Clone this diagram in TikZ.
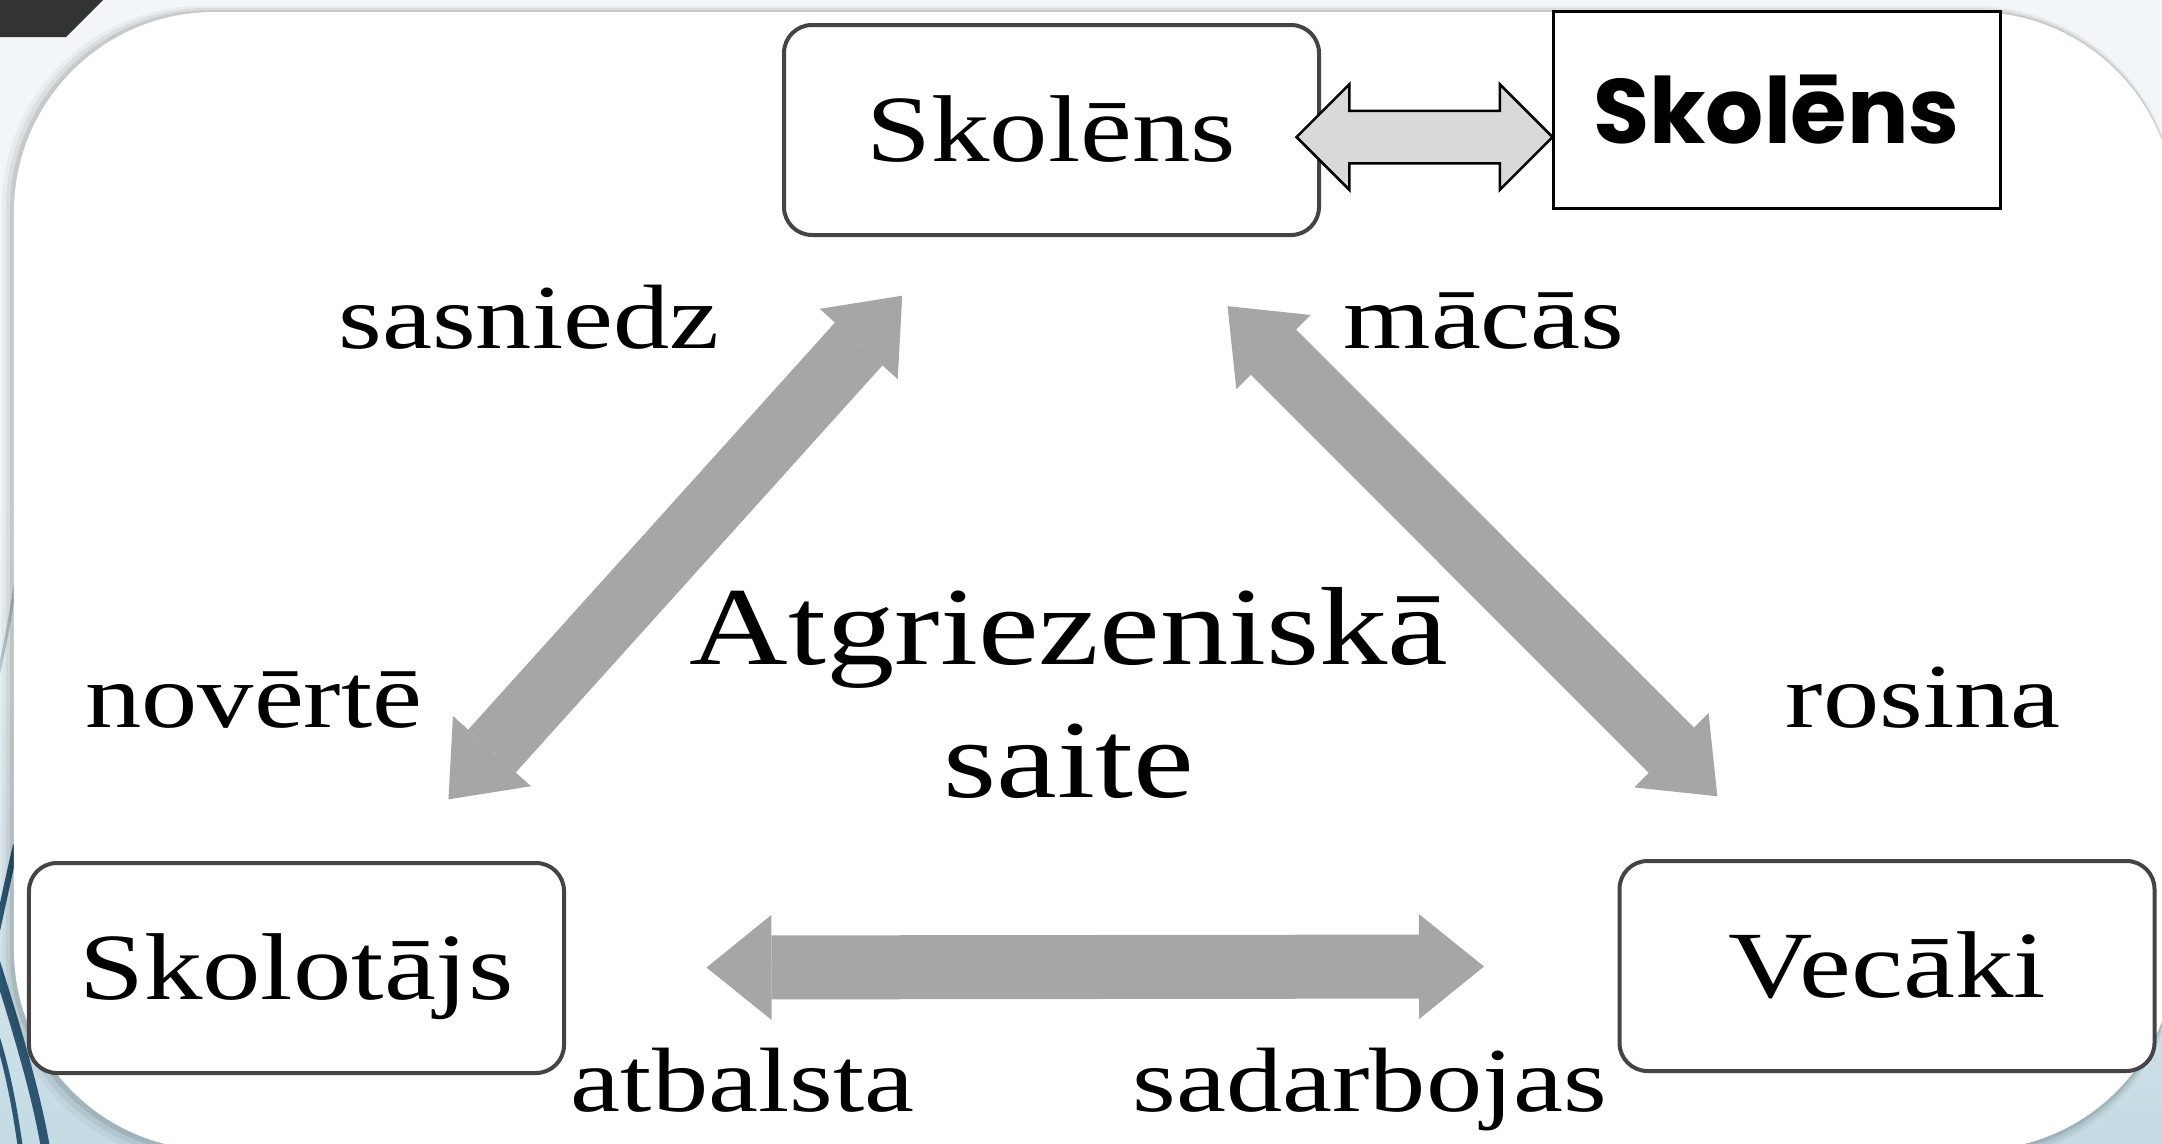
\documentclass[tikz,border=0pt]{standalone}
\usepackage{fontspec}
\setmainfont{Liberation Serif}[FakeStretch=1.23]
\newfontfamily\gothicfont{Poppins}
\usetikzlibrary{arrows.meta,shapes.arrows,calc}

\definecolor{arrowgrey}{HTML}{A6A6A6}
\definecolor{linkgrey}{HTML}{D9D9D9}
\definecolor{boxline}{HTML}{444444}
\definecolor{backpale}{HTML}{F3F6F8}
\definecolor{backblue}{HTML}{C4DBE3}
\definecolor{wisp}{HTML}{2B5571}
\definecolor{darkbar}{HTML}{333333}

\begin{document}
\begin{tikzpicture}[
  x=1mm,y=-1mm,
  role/.style={draw=boxline, line width=0.4mm, rounded corners=2.8mm, fill=white, minimum width=53.5mm, minimum height=21mm, inner sep=0pt, text height=6.3mm, text depth=0pt, font=\fontsize{27}{32}\selectfont},
  peerbox/.style={draw=black, line width=0.3mm, fill=white, minimum width=44.7mm, minimum height=19.7mm, inner sep=0pt, font=\gothicfont\bfseries\fontsize{26}{30}\selectfont},
  verblabel/.style={anchor=base, inner sep=0pt, font=\fontsize{26}{31}\selectfont},
  centre/.style={anchor=base, align=center, inner sep=0pt, font=\fontsize{31.6}{37.6}\selectfont},
  bigarrow/.style={draw=arrowgrey, line width=6.4mm, >={Triangle[length=6.5mm,width=10.5mm,line width=0pt]}, <->},
  linkarrow/.style={double arrow, draw=black, fill=linkgrey, line width=0.25mm, minimum height=25.6mm, inner xsep=0pt, inner ysep=2.5mm, double arrow head extend=2.65mm}
]
% slide backdrop
\useasboundingbox (0,0) rectangle (216.2,114.3);
\clip (0,0) rectangle (216.2,114.3);
\fill[backpale] (0,0) rectangle (216.2,114.3);
\shade[top color=backpale, bottom color=backblue] (0,50) rectangle (216.2,114.3);
\draw[wisp!35!white, line width=0.3mm] (1.6,58) .. controls (0.8,63) .. (-0.5,69);
\draw[wisp, line width=0.6mm] (1.6,84.5) .. controls (0.8,88) .. (-0.5,94);
\draw[wisp, line width=0.9mm] (-0.5,96) .. controls (2,104) and (3.5,109) .. (4.5,114.5);
\draw[wisp, line width=0.5mm] (-0.5,103) .. controls (0.8,107) and (1.5,111) .. (2,114.5);
\foreach \d/\o in {1.2/0.04,0.8/0.06,0.4/0.09}
  {\fill[black, opacity=\o, rounded corners=20mm] (1.4-\d,1.2-\d/2) rectangle (217.5,115+\d);}
\fill[white, rounded corners=20mm] (1.4,1.2) rectangle (217.5,115);
\fill[darkbar] (0,0) -- (10.3,0) -- (6.6,3.7) -- (0,3.7) -- cycle;

% roles
\node[role] (pupil) at (105.15,13.0) {Skolēns};
\node[role] (teacher) at (29.65,96.8) {Skolotājs};
\node[role] (parents) at (188.7,96.6) {Vecāki};
\node[peerbox] (peer) at (177.65,10.95) {Skolēns};
\node[linkarrow] (link) at (142.45,13.7) {};

% verbs
\node[verblabel] (reach) at (52.9,34.8) {sasniedz};
\node[verblabel] (learn) at (148.4,34.8) {mācās};
\node[verblabel] (assess) at (25.4,72.7) {novērtē};
\node[verblabel] (inspire) at (192.3,72.7) {rosina};
\node[verblabel] (support) at (74.25,111.1) {atbalsta};
\node[verblabel] (cooperate) at (137.0,111.1) {sadarbojas};
\node[centre] (feedback) at (106.9,79.7) {Atgriezeniskā\\saite};

\foreach \a/\b/\s/\t in {pupil/teacher/22.3/22.7,pupil/parents/24.9/24.0,teacher/parents/41.0/40.3}
  {\draw[bigarrow, shorten <=\s mm, shorten >=\t mm] (\a.center) -- (\b.center);}
\end{tikzpicture}
\end{document}
